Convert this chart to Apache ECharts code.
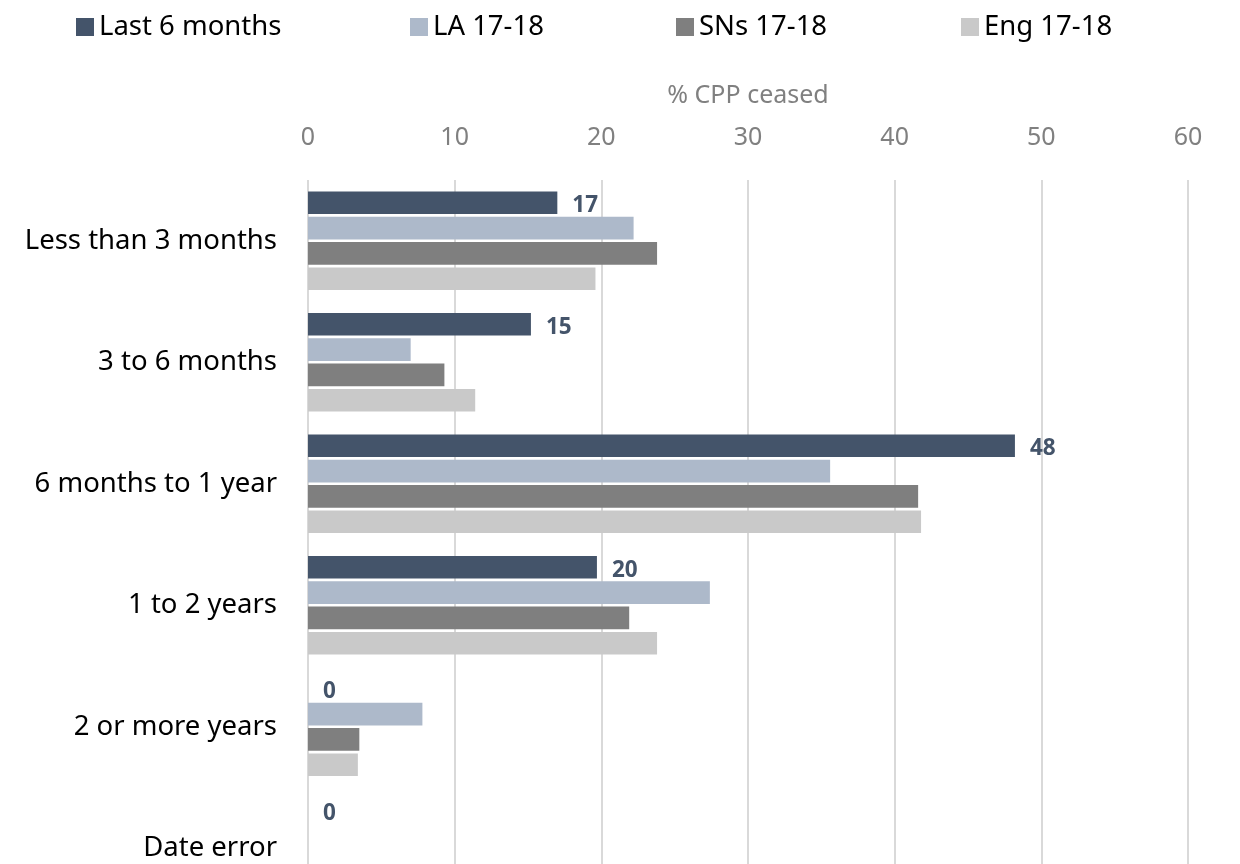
<!DOCTYPE html>
<html>
<head>
<meta charset="utf-8">
<script src="https://cdn.jsdelivr.net/npm/echarts@6/dist/echarts.min.js"></script>
<style>
html,body{margin:0;padding:0;background:#fff;overflow:hidden;width:1240px;height:864px;}
#chart{width:1240px;height:909px;}
</style>
</head>
<body>
<div id="chart"></div>
<script>
const categories = ['Less than 3 months', '3 to 6 months', '6 months to 1 year', '1 to 2 years', '2 or more years', 'Date error'];
const seriesNames = ['Last 6 months', 'LA 17-18', 'SNs 17-18', 'Eng 17-18'];
const last6 = [17.0, 15.2, 48.2, 19.7, 0, 0];
const la1718 = [22.2, 7.0, 35.6, 27.4, 7.8, 0];
const sns1718 = [23.8, 9.3, 41.6, 21.9, 3.5, 0];
const eng1718 = [19.6, 11.4, 41.8, 23.8, 3.4, 0];
const axisTitle = '% CPP ceased';

const colors = ['#44546A', '#ADB9CA', '#7F7F7F', '#C9C9C9'];
const FONT = 'Noto Sans';
const legendLefts = [71, 405, 671, 956];

const chart = echarts.init(document.getElementById('chart'), null, {renderer: 'canvas'});
const dataSets = [last6, la1718, sns1718, eng1718];

const option = {
  animation: false,
  textStyle: {fontFamily: FONT},
  legend: seriesNames.map((n, i) => ({
    data: [n],
    left: legendLefts[i],
    top: 8,
    itemWidth: 18,
    itemHeight: 18,
    itemGap: 0,
    itemTextGap: 8,
    icon: 'rect',
    textStyle: {fontSize: 27.5, color: '#000', fontFamily: FONT},
    itemStyle: {borderWidth: 0}
  })),
  grid: {left: 308, top: 180, right: 52, bottom: 0, containLabel: false},
  xAxis: {
    type: 'value',
    position: 'top',
    min: 0, max: 60, interval: 10,
    name: axisTitle,
    nameLocation: 'middle',
    nameGap: 72,
    nameTextStyle: {fontSize: 25, color: '#808080', fontFamily: FONT},
    axisLabel: {fontSize: 25, color: '#808080', margin: 30, fontFamily: FONT},
    axisLine: {show: false},
    axisTick: {show: false},
    splitLine: {show: true, lineStyle: {color: '#D9D9D9', width: 2}}
  },
  yAxis: {
    type: 'category',
    data: categories,
    inverse: true,
    axisLine: {show: false},
    axisTick: {show: false},
    axisLabel: {fontSize: 27.5, color: '#000', margin: 31, fontFamily: FONT, padding: [4, 0, 0, 0]}
  },
  series: dataSets.map((d, i) => ({
    name: seriesNames[i],
    type: 'bar',
    data: d,
    barCategoryGap: '19%',
    barGap: '12%',
    itemStyle: {color: colors[i]},
    label: i === 0 ? {
      show: true,
      position: 'right',
      distance: 15,
      offset: [0, 3],
      formatter: p => Math.round(p.value),
      fontSize: 22.5,
      fontWeight: 'bold',
      color: '#44546A',
      fontFamily: FONT
    } : {show: false}
  }))
};
chart.setOption(option);
</script>
</body>
</html>
